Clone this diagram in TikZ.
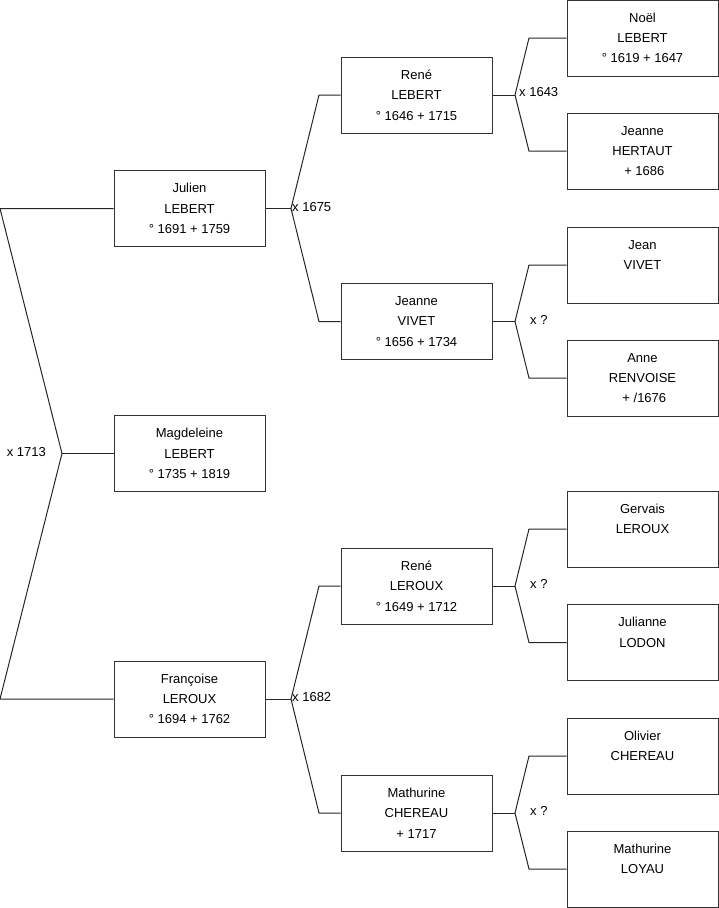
\documentclass[tikz,border=0pt]{standalone}
\usepackage{fontspec}
\setmainfont{Liberation Sans}
\begin{document}
\begin{tikzpicture}[x=1pt,y=-1pt,
  person/.style={draw=black!80,line width=1pt,minimum width=151pt,minimum height=76pt,
    inner sep=0pt,align=center,font=\fontsize{13}{20.3}\selectfont},
  link/.style={draw=black!85,line width=1pt},
  lbl/.style={font=\fontsize{13}{15}\selectfont,inner sep=0pt}]
\useasboundingbox (0,0) rectangle (719,908);
% column 1
\node[person] (julien) at (189.5,208.5) {Julien\\LEBERT\\° 1691 + 1759};
\node[person] (magd) at (189.5,453.5) {Magdeleine\\LEBERT\\° 1735 + 1819};
\node[person] (franc) at (189.5,699) {Françoise\\LEROUX\\° 1694 + 1762};
% column 2
\node[person] (renel) at (416.5,95) {René\\LEBERT\\° 1646 + 1715};
\node[person] (jeannev) at (416.5,321.5) {Jeanne\\VIVET\\° 1656 + 1734};
\node[person] (reneler) at (416.5,586) {René\\LEROUX\\° 1649 + 1712};
\node[person] (mathc) at (416.5,813) {Mathurine\\CHEREAU\\+ 1717};
% column 3
\node[person] (noel) at (642.5,38) {Noël\\LEBERT\\° 1619 + 1647};
\node[person] (jeanneh) at (642.5,151) {Jeanne\\HERTAUT\\\ + 1686};
\node[person] (jean) at (642.5,265) {Jean\\VIVET\\~};
\node[person] (anne) at (642.5,378) {Anne\\RENVOISE\\\ + /1676};
\node[person] (gervais) at (642.5,529) {Gervais\\LEROUX\\~};
\node[person] (julianne) at (642.5,642.5) {Julianne\\LODON\\~};
\node[person] (olivier) at (642.5,756) {Olivier\\CHEREAU\\~};
\node[person] (mathl) at (642.5,869) {Mathurine\\LOYAU\\~};
% left bracket
\coordinate (ltop) at (0,208.5);
\coordinate (lbot) at (0,699);
\coordinate (lf) at (62,453.5);
\draw[link] (julien.west) -- (ltop) -- (lf) -- (lbot) -- (franc.west);
\draw[link] (lf) -- (magd.west);
\node[lbl,anchor=east] (m1) at (46,452) {x 1713};
% Julien's parents
\coordinate (f1) at (291,208.5);
\coordinate (f1a) at (319,95);
\coordinate (f1b) at (319,321.5);
\draw[link] (julien.east) -- (f1);
\draw[link] (renel.west) -- (f1a) -- (f1) -- (f1b) -- (jeannev.west);
\node[lbl,anchor=west] (m2) at (292,207.5) {x 1675};
% Francoise's parents
\coordinate (f2) at (291,699);
\coordinate (f2a) at (319,586);
\coordinate (f2b) at (319,813);
\draw[link] (franc.east) -- (f2);
\draw[link] (reneler.west) -- (f2a) -- (f2) -- (f2b) -- (mathc.west);
\node[lbl,anchor=west] (m3) at (292,697.5) {x 1682};
% Rene LEBERT's parents
\coordinate (f3) at (515,95);
\coordinate (f3a) at (529,38);
\coordinate (f3b) at (529,151);
\draw[link] (renel.east) -- (f3);
\draw[link] (noel.west) -- (f3a) -- (f3) -- (f3b) -- (jeanneh.west);
\node[lbl,anchor=west] (m4) at (519,92.5) {x 1643};
% Jeanne VIVET's parents
\coordinate (f4) at (515,321.5);
\coordinate (f4a) at (529,265);
\coordinate (f4b) at (529,378);
\draw[link] (jeannev.east) -- (f4);
\draw[link] (jean.west) -- (f4a) -- (f4) -- (f4b) -- (anne.west);
\node[lbl,anchor=west] (m5) at (530,320) {x ?};
% Rene LEROUX's parents
\coordinate (f5) at (515,586);
\coordinate (f5a) at (529,529);
\coordinate (f5b) at (529,642.5);
\draw[link] (reneler.east) -- (f5);
\draw[link] (gervais.west) -- (f5a) -- (f5) -- (f5b) -- (julianne.west);
\node[lbl,anchor=west] (m6) at (530,584) {x ?};
% Mathurine CHEREAU's parents
\coordinate (f6) at (515,813);
\coordinate (f6a) at (529,756);
\coordinate (f6b) at (529,869);
\draw[link] (mathc.east) -- (f6);
\draw[link] (olivier.west) -- (f6a) -- (f6) -- (f6b) -- (mathl.west);
\node[lbl,anchor=west] (m7) at (530,811) {x ?};
\end{tikzpicture}
\end{document}
